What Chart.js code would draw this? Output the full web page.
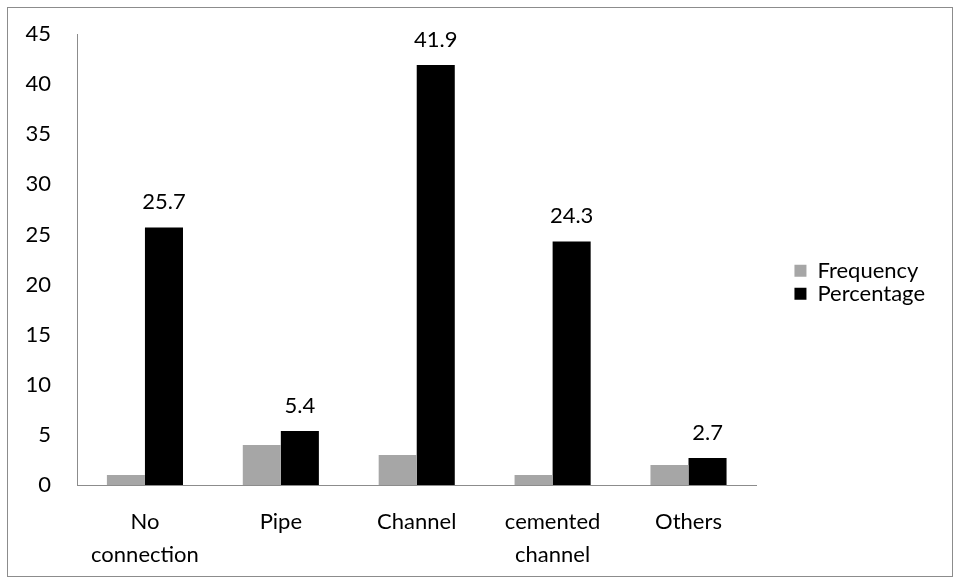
<!DOCTYPE html>
<html>
<head>
<meta charset="utf-8">
<script src="https://cdn.jsdelivr.net/npm/chart.js@4.4.0/dist/chart.umd.min.js"></script>
<style>
  body { margin: 0; background: #fff; }
  #box { position: absolute; left: 7px; top: 7px; width: 946px; height: 570px; border: 1px solid #8c8c8c; box-sizing: border-box; }
  #wrap { position: absolute; left: 0; top: 0; width: 944px; height: 568px; }
</style>
</head>
<body>
<div id="box"><div id="wrap"><canvas id="searching_data"></canvas></div></div>
<script>
var categories = [['No', 'connection'], 'Pipe', 'Channel', ['cemented', 'channel'], 'Others'];
var frequency = [1, 4, 3, 1, 2];
var percentage = [25.7, 5.4, 41.9, 24.3, 2.7];
var yTicks = [0, 5, 10, 15, 20, 25, 30, 35, 40, 45];

var fontFam = "Lato, 'Open Sans', sans-serif";

// values over the black bars
var topLabels = {
	id: 'topLabels',
	afterDatasetsDraw: function(chart) {
		var c = chart.ctx;
		var meta = chart.getDatasetMeta(1);
		c.save();
		c.font = '22px ' + fontFam;
		c.fillStyle = '#000';
		c.textAlign = 'center';
		c.textBaseline = 'alphabetic';
		for (var i = 0; i < meta.data.length; i++) {
			var bar = meta.data[i];
			c.fillText(percentage[i].toFixed(1), bar.x, bar.y - 18);
		}
		c.restore();
	}
};

var ctx = document.getElementById('searching_data');
var barGraph = new Chart(ctx, {
	type: 'bar',
	data: {
		labels: categories,
		datasets: [
			{ label: 'Frequency', data: frequency, backgroundColor: '#a6a6a6', categoryPercentage: 0.56, barPercentage: 1 },
			{ label: 'Percentage', data: percentage, backgroundColor: '#000000', categoryPercentage: 0.56, barPercentage: 1 }
		]
	},
	options: {
		responsive: true,
		maintainAspectRatio: false,
		animation: false,
		layout: { padding: { left: 17, top: 26, right: 17, bottom: 0 } },
		plugins: {
			tooltip: { enabled: false },
			legend: {
				position: 'right',
				fullSize: false,
				title: { display: true, text: ' ', font: { size: 22 }, padding: { top: 19, bottom: 0 } },
				labels: { boxWidth: 12, boxHeight: 12, color: '#000', font: { size: 22, family: fontFam }, padding: 1 }
			}
		},
		scales: {
			x: {
				grid: { display: false, drawTicks: false },
				border: { color: '#8c8c8c' },
				ticks: { color: '#000', font: { size: 22, family: fontFam, lineHeight: 1.5 }, maxRotation: 0, autoSkip: false, padding: 20 },
				afterFit: function(s) { s.paddingLeft = 0; s.paddingRight = 0; s.height = 91; }
			},
			y: {
				min: 0, max: 45,
				afterBuildTicks: function(axis) { axis.ticks = yTicks.map(function(v) { return { value: v }; }); },
				grid: { display: false, drawTicks: false },
				border: { color: '#8c8c8c' },
				ticks: { color: '#000', font: { size: 22, family: fontFam }, padding: 26 },
				afterFit: function(s) { s.width = 52; s.paddingTop = 0; s.paddingBottom = 0; }
			},
			// empty gap between plot and legend
			gap: {
				type: 'linear',
				position: 'right',
				display: true,
				grid: { display: false, drawTicks: false },
				border: { display: false },
				ticks: { display: false },
				afterFit: function(s) { s.width = 37; s.paddingTop = 0; s.paddingBottom = 0; }
			}
		}
	},
	plugins: [topLabels]
});
</script>
</body>
</html>
